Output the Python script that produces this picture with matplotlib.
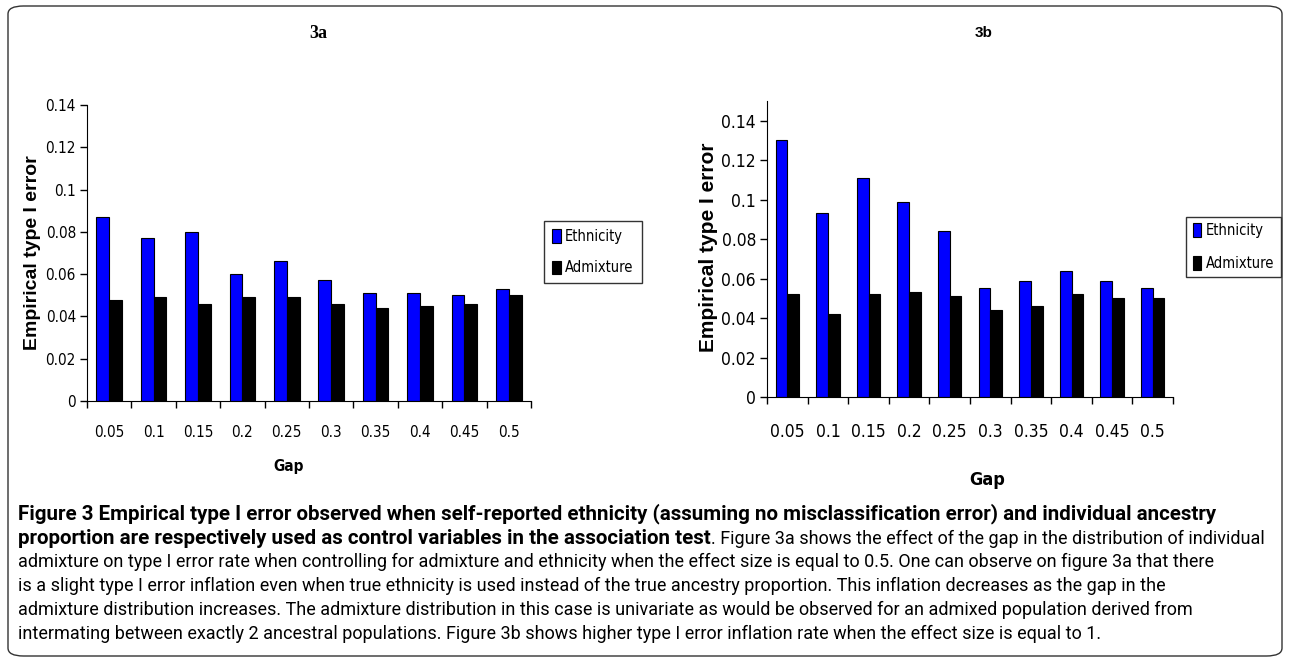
import numpy as np
import matplotlib
matplotlib.use('Agg')
import matplotlib.pyplot as plt
from matplotlib.patches import FancyBboxPatch
from matplotlib.ticker import FixedLocator, NullFormatter
from matplotlib.font_manager import FontProperties

# datos
gap = ['0.05', '0.1', '0.15', '0.2', '0.25', '0.3', '0.35', '0.4', '0.45', '0.5']
eth_a = [0.087, 0.077, 0.080, 0.060, 0.066, 0.057, 0.051, 0.051, 0.050, 0.053]
adm_a = [0.048, 0.049, 0.046, 0.049, 0.049, 0.046, 0.044, 0.045, 0.046, 0.050]
eth_b = [0.130, 0.093, 0.111, 0.099, 0.084, 0.055, 0.059, 0.064, 0.059, 0.055]
adm_b = [0.052, 0.042, 0.052, 0.053, 0.051, 0.044, 0.046, 0.052, 0.050, 0.050]
yticks = [0, 0.02, 0.04, 0.06, 0.08, 0.1, 0.12, 0.14]
ytick_labels = ['0', '0.02', '0.04', '0.06', '0.08', '0.1', '0.12', '0.14']


def narrow(size, bold=False):
    return FontProperties(family=['DejaVu Sans'], stretch='condensed', size=size,
                          weight='bold' if bold else 'normal')


arial = ['Liberation Sans', 'DejaVu Sans']
caption_font = ['Roboto', 'DejaVu Sans']

W, H = 1290, 664
fig = plt.figure(figsize=(W/100, H/100), dpi=100)

# marco redondeado
marco = FancyBboxPatch((8/W, 8/H), 1274/W, 650/H,
                       boxstyle='round,pad=0,rounding_size=0.012',
                       transform=fig.transFigure, fill=False,
                       edgecolor='#333333', linewidth=1.0)
fig.patches.append(marco)


def barras(ax, eth, adm, ymax, fs, pad):
    x = np.arange(len(gap))
    w = 0.29
    ax.bar(x - w/2, eth, w, color='#0000ff', edgecolor='black', linewidth=0.8, label='Ethnicity')
    ax.bar(x + w/2, adm, w, color='black', edgecolor='black', linewidth=0.8, label='Admixture')
    ax.set_xlim(-0.5, len(gap) - 0.5)
    ax.set_ylim(0, ymax)
    ax.spines['top'].set_visible(False)
    ax.spines['right'].set_visible(False)
    ax.set_yticks(yticks)
    ax.set_yticklabels(ytick_labels, fontproperties=narrow(fs))
    ax.xaxis.set_major_locator(FixedLocator(np.arange(len(gap) + 1) - 0.5))
    ax.xaxis.set_major_formatter(NullFormatter())
    ax.xaxis.set_minor_locator(FixedLocator(x))
    ax.set_xticklabels(gap, minor=True, fontproperties=narrow(fs))
    ax.tick_params(axis='x', which='minor', length=0, pad=pad)
    ax.tick_params(axis='x', which='major', length=5, width=1)
    ax.tick_params(axis='y', length=5, width=1, pad=3)
    return ax


def caja(x0, x1, ytop, ybot):
    return [x0/W, 1 - ybot/H, (x1 - x0)/W, (ybot - ytop)/H]


# 3a
ax1 = fig.add_axes(caja(87, 531, 105, 401))
barras(ax1, eth_a, adm_a, 0.14, 11, 17)
ax1.set_ylabel('Empirical type I error', family=arial, fontweight='bold', fontsize=14, va='center')
ax1.yaxis.set_label_coords((32 - 87)/444, 0.5)
fig.text(318/W, 1 - 33/H, '3a', family=['Liberation Serif', 'DejaVu Serif'],
         fontweight='bold', fontsize=13, ha='center', va='center')
fig.text(289/W, 1 - 466/H, 'Gap', fontproperties=narrow(11, True),
         ha='center', va='center')
ax1.legend(loc='center left', bbox_to_anchor=(544/W, 1 - 252/H), bbox_transform=fig.transFigure,
           borderaxespad=0, prop=narrow(10.5), frameon=True, fancybox=False, edgecolor='black',
           handlelength=0.6, handleheight=1.0, handletextpad=0.3, labelspacing=1.1, borderpad=0.55)

# 3b
ax2 = fig.add_axes(caja(767, 1173, 101, 397))
barras(ax2, eth_b, adm_b, 0.15, 12.5, 19)
ax2.set_ylabel('Empirical type I error', family=arial, fontweight='bold', fontsize=15, va='center')
ax2.yaxis.set_label_coords((708 - 767)/406, (397 - 247)/296)
fig.text(984/W, 1 - 33/H, '3b', family=arial, fontweight='bold', fontsize=11,
         ha='center', va='center')
fig.text(987/W, 1 - 480/H, 'Gap', fontproperties=narrow(13, True),
         ha='center', va='center')
ax2.legend(loc='center left', bbox_to_anchor=(1186/W, 1 - 247/H), bbox_transform=fig.transFigure,
           borderaxespad=0, prop=narrow(10.5), frameon=True, fancybox=False, edgecolor='black',
           handlelength=0.6, handleheight=1.1, handletextpad=0.3, labelspacing=1.2, borderpad=0.45)

# leyenda de la figura
linea1 = ('Figure 3 Empirical type I error observed when self-reported ethnicity (assuming no '
          'misclassification error) and individual ancestry')
linea2b = 'proportion are respectively used as control variables in the association test'
linea2r = '. Figure 3a shows the effect of the gap in the distribution of individual'
resto = ['admixture on type I error rate when controlling for admixture and ethnicity when the effect '
         'size is equal to 0.5. One can observe on figure 3a that there',
         'is a slight type I error inflation even when true ethnicity is used instead of the true '
         'ancestry proportion. This inflation decreases as the gap in the',
         'admixture distribution increases. The admixture distribution in this case is univariate as '
         'would be observed for an admixed population derived from',
         'intermating between exactly 2 ancestral populations. Figure 3b shows higher type I error '
         'inflation rate when the effect size is equal to 1.']

fs_b = 14.8
fs_r = 13.0
x0 = 18/W
fig.text(x0, 1 - 514/H, linea1, family=caption_font, fontweight='bold', fontsize=fs_b, va='center')
t2 = fig.text(x0, 1 - 538/H, linea2b, family=caption_font, fontweight='bold', fontsize=fs_b, va='center')
# el texto regular sigue justo despues del negrito
fig.add_artist(plt.Annotation(linea2r, xy=(1, 0), xycoords=t2, va='bottom', ha='left',
                              family=caption_font, fontsize=fs_r, annotation_clip=False))
for i, s in enumerate(resto):
    fig.text(x0, 1 - (562 + 24*i)/H, s, family=caption_font, fontsize=fs_r, va='center')

fig.savefig('out.png', dpi=100)
